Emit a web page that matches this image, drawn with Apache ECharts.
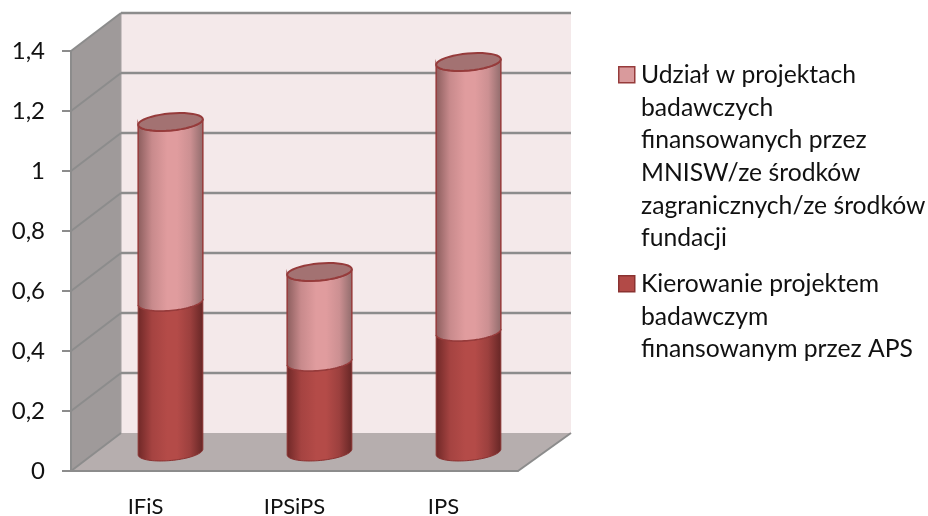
<!DOCTYPE html>
<html>
<head>
<meta charset="utf-8">
<style>
  html, body { margin: 0; padding: 0; background: #fff; }
  #main { width: 928px; height: 516px; }
</style>
<script src="https://cdn.jsdelivr.net/npm/echarts@6/dist/echarts.min.js"></script>
</head>
<body>
<div id="main"></div>
<script>
const categories = ['IFiS', 'IPSiPS', 'IPS'];
const kierowanie = [0.5, 0.3, 0.4];
const udzial = [0.6, 0.3, 0.9];
const yTicks = [0, 0.2, 0.4, 0.6, 0.8, 1, 1.2, 1.4];
const legendLinesUdzial = [
  'Udział w projektach',
  'badawczych',
  'finansowanych przez',
  'MNISW/ze środków',
  'zagranicznych/ze środków',
  'fundacji'
];
const legendLinesKierowanie = [
  'Kierowanie projektem',
  'badawczym',
  'finansowanym przez APS'
];

const FONT = 'Lato, "Open Sans", sans-serif';
const DEPTH_X = 50;
const DEPTH_X_RIGHT = 53;
const DEPTH_Y = -38;
const TILT = 5.3 * Math.PI / 180;
const LINE = '#8c8c8c';

const chartDom = document.getElementById('main');
const myChart = echarts.init(chartDom);

function ellipsePoint(cx, cy, rx, ry, t) {
  return [
    cx + rx * Math.cos(t) * Math.cos(TILT) + ry * Math.sin(t) * Math.sin(TILT),
    cy - rx * Math.cos(t) * Math.sin(TILT) + ry * Math.sin(t) * Math.cos(TILT)
  ];
}

// t from 0 to PI runs along the lower edge, right end to left end
function arc(cx, cy, rx, ry, from, to) {
  const pts = [];
  for (let i = 0; i <= 40; i++) {
    pts.push(ellipsePoint(cx, cy, rx, ry, from + (to - from) * i / 40));
  }
  return pts;
}

function hGradient(edgeL, shoulderL, mid, shoulderR, edgeR) {
  return new echarts.graphic.LinearGradient(0, 0, 1, 0, [
    { offset: 0, color: edgeL },
    { offset: 0.22, color: shoulderL },
    { offset: 0.45, color: mid },
    { offset: 0.6, color: mid },
    { offset: 0.8, color: shoulderR },
    { offset: 1, color: edgeR }
  ]);
}

// side wall, floor and back wall
function renderWalls(params, api) {
  const cs = params.coordSys;
  const l = cs.x, r = cs.x + cs.width, t = cs.y, b = cs.y + cs.height;
  const dx = DEPTH_X, dxr = DEPTH_X_RIGHT, dy = DEPTH_Y;
  const children = [
    { type: 'polygon', shape: { points: [[l + dx, t + dy], [r + dxr, t + dy], [r + dxr, b + dy], [l + dx, b + dy]] },
      style: { fill: '#f4e9ea' } },
    { type: 'polygon', shape: { points: [[l, t], [l + dx, t + dy], [l + dx, b + dy], [l, b]] },
      style: { fill: '#9f9a9a' } },
    { type: 'polygon', shape: { points: [[l, b], [l + dx, b + dy], [r + dxr, b + dy], [r, b]] },
      style: { fill: '#b6aeae' } },
    { type: 'line', shape: { x1: l + dx, y1: t + dy, x2: l + dx, y2: b + dy },
      style: { stroke: '#a3a0a0', lineWidth: 1 } },
    { type: 'line', shape: { x1: r, y1: b, x2: r + dxr, y2: b + dy },
      style: { stroke: LINE, lineWidth: 2 } }
  ];
  yTicks.forEach(function (v) {
    const y = api.coord([0, v])[1];
    children.push({ type: 'line', shape: { x1: l, y1: y, x2: l + dx, y2: y + dy },
      style: { stroke: LINE, lineWidth: 2 } });
    if (v > 0) {
      children.push({ type: 'line', shape: { x1: l + dx, y1: y + dy, x2: r + dxr, y2: y + dy },
        style: { stroke: LINE, lineWidth: 2.5 } });
    }
  });
  return { type: 'group', children: children };
}

function renderCylinder(light) {
  return function (params, api) {
    const cat = api.value(0);
    const p0 = api.coord([cat, api.value(1)]);
    const p1 = api.coord([cat, api.value(2)]);
    const rx = api.size([1, 0])[0] * 0.218;
    const ry = 8.5;
    const cx = p0[0] + DEPTH_X / 2;
    const y0 = p0[1] + DEPTH_Y / 2;
    const y1 = p1[1] + DEPTH_Y / 2;
    const lowerBottom = arc(cx, y0, rx, ry, 0, Math.PI);
    const lowerTop = arc(cx, y1, rx, ry, Math.PI, 0);
    const children = [{
      type: 'polygon',
      shape: { points: lowerBottom.concat(lowerTop) },
      style: {
        fill: light
          ? hGradient('#8a5c5c', '#c88a8c', '#e09c9e', '#cc9092', '#8f6b6b')
          : hGradient('#6f2827', '#a54341', '#b44b48', '#9c403e', '#652625'),
        stroke: light ? '#963b3b' : '#8a3231',
        lineWidth: light ? 1.5 : 1
      }
    }];
    if (light) {
      children.push({
        type: 'polygon',
        shape: { points: arc(cx, y1, rx, ry, 0, 2 * Math.PI) },
        style: { fill: '#a37272', stroke: '#963b3b', lineWidth: 2 }
      });
    }
    return { type: 'group', children: children };
  };
}

function legendEntry(lines, top, fill, stroke) {
  return [
    { type: 'rect', left: 618, top: top + 7, shape: { width: 16, height: 16 },
      style: { fill: fill, stroke: stroke, lineWidth: 1.5 } },
    { type: 'text', left: 641, top: top, style: {
      text: lines.join('\n'), font: '400 24.7px ' + FONT, lineHeight: 32.6, fill: '#111' } }
  ];
}

const option = {
  animation: false,
  backgroundColor: '#fff',
  grid: { left: 71, top: 51, width: 447, height: 420, outerBoundsMode: 'none' },
  xAxis: {
    type: 'category',
    data: categories,
    z: 5,
    axisLine: { lineStyle: { color: LINE, width: 2 } },
    axisTick: { alignWithLabel: false, length: 9, lineStyle: { color: LINE, width: 2 } },
    axisLabel: { color: '#111', fontFamily: FONT, fontSize: 22, margin: 25 }
  },
  yAxis: {
    type: 'value',
    min: 0,
    max: 1.4,
    interval: 0.2,
    z: 5,
    splitLine: { show: false },
    axisLine: { show: true, lineStyle: { color: LINE, width: 2 } },
    axisTick: { show: true, length: 9, lineStyle: { color: LINE, width: 2 } },
    axisLabel: {
      color: '#111', fontFamily: FONT, fontSize: 24, margin: 26, padding: [4, 0, 0, 0],
      formatter: function (v) { return String(v).replace('.', ','); }
    }
  },
  graphic: legendEntry(legendLinesUdzial, 59, '#d99a9c', '#963b3b')
    .concat(legendEntry(legendLinesKierowanie, 268, '#b24a47', '#8a3231')),
  series: [
    {
      type: 'custom',
      name: 'walls',
      z: 1,
      silent: true,
      renderItem: renderWalls,
      data: [[0, 0]],
      encode: { x: 0, y: 1 }
    },
    {
      type: 'custom',
      name: 'Kierowanie projektem badawczym finansowanym przez APS',
      z: 3,
      renderItem: renderCylinder(false),
      data: categories.map(function (c, i) { return [i, 0, kierowanie[i]]; }),
      encode: { x: 0, y: [1, 2] }
    },
    {
      type: 'custom',
      name: 'Udział w projektach badawczych finansowanych przez MNISW/ze środków zagranicznych/ze środków fundacji',
      z: 4,
      renderItem: renderCylinder(true),
      data: categories.map(function (c, i) { return [i, kierowanie[i], kierowanie[i] + udzial[i]]; }),
      encode: { x: 0, y: [1, 2] }
    }
  ]
};

myChart.setOption(option);
</script>
</body>
</html>
